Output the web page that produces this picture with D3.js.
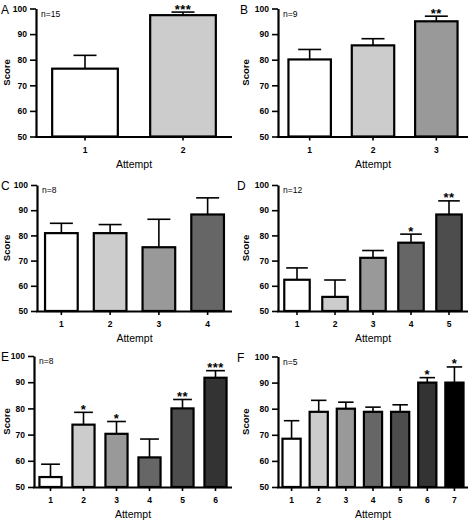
<!DOCTYPE html>
<html>
<head>
<meta charset="utf-8">
<script src="https://cdn.jsdelivr.net/npm/d3@7"></script>
<style>
  html, body { margin: 0; padding: 0; background: #fff; }
  svg { display: block; }
  text { font-family: "Liberation Sans", Arial, sans-serif; fill: #000; }
</style>
</head>
<body>
<svg id="chart" width="470" height="521"></svg>
<script>
// ---- Data ----
const yTicks = [50, 60, 70, 80, 90, 100];

const labelsA = ["1", "2"];
const meansA = [76.5, 97.4];
const semA = [5.2, 1.2];
const sigA = ["", "***"];

const labelsB = ["1", "2", "3"];
const meansB = [80.1, 85.6, 95.0];
const semB = [3.9, 2.6, 2.0];
const sigB = ["", "", "**"];

const labelsC = ["1", "2", "3", "4"];
const meansC = [80.9, 80.9, 75.3, 88.3];
const semC = [3.9, 3.4, 11.1, 6.6];
const sigC = ["", "", "", ""];

const labelsD = ["1", "2", "3", "4", "5"];
const meansD = [62.4, 55.6, 71.1, 77.1, 88.3];
const semD = [4.7, 6.7, 2.9, 3.4, 5.4];
const sigD = ["", "", "", "*", "**"];

const labelsE = ["1", "2", "3", "4", "5", "6"];
const meansE = [53.8, 73.8, 70.3, 61.3, 80.0, 91.7];
const semE = [4.9, 4.7, 4.7, 7.0, 3.4, 2.7];
const sigE = ["", "*", "*", "", "**", "***"];

const labelsF = ["1", "2", "3", "4", "5", "6", "7"];
const meansF = [68.5, 78.8, 80.0, 78.8, 78.8, 90.0, 90.0];
const semF = [6.9, 4.4, 2.5, 1.8, 2.7, 1.9, 6.0];
const sigF = ["", "", "", "", "", "*", "*"];

const fills = ["#ffffff", "#cccccc", "#999999", "#666666", "#4d4d4d", "#333333", "#000000"];

const panels = [
  {letter: "A", n: "n=15", labels: labelsA, means: meansA, sem: semA, sig: sigA,
   x0: 36, x1: 232, top: 8.5, bottom: 136.5, lx: 1, sx: 7},
  {letter: "B", n: "n=9", labels: labelsB, means: meansB, sem: semB, sig: sigB,
   x0: 278, x1: 468, top: 8.5, bottom: 136.5, lx: 240, sx: 246},
  {letter: "C", n: "n=8", labels: labelsC, means: meansC, sem: semC, sig: sigC,
   x0: 37, x1: 232, top: 185, bottom: 311, lx: 1, sx: 7},
  {letter: "D", n: "n=12", labels: labelsD, means: meansD, sem: semD, sig: sigD,
   x0: 278, x1: 468, top: 185, bottom: 311, lx: 237, sx: 246},
  {letter: "E", n: "n=8", labels: labelsE, means: meansE, sem: semE, sig: sigE,
   x0: 34, x1: 232, top: 356, bottom: 487, lx: 1, sx: 7},
  {letter: "F", n: "n=5", labels: labelsF, means: meansF, sem: semF, sig: sigF,
   x0: 278, x1: 468, top: 356.5, bottom: 487, lx: 237, sx: 246}
];

const svg = d3.select("#chart");
svg.append("rect").attr("width", 470).attr("height", 521).attr("fill", "#fff");

panels.forEach(p => {
  const g = svg.append("g");
  const x = d3.scaleBand().domain(p.labels).range([p.x0, p.x1])
    .paddingInner(0.33).paddingOuter(0.165);
  const y = d3.scaleLinear().domain([50, 100]).range([p.bottom, p.top]);
  const bw = x.bandwidth();
  const capW = Math.min(23, bw * 0.85);

  const data = p.labels.map((l, i) => ({l, m: p.means[i], s: p.sem[i], sig: p.sig[i], c: fills[i]}));

  // error bars (upper only)
  g.selectAll("line.err").data(data).join("line")
    .attr("x1", d => x(d.l) + bw / 2).attr("x2", d => x(d.l) + bw / 2)
    .attr("y1", d => y(d.m)).attr("y2", d => y(d.m + d.s))
    .attr("stroke", "#000").attr("stroke-width", 1.6);
  g.selectAll("line.cap").data(data).join("line")
    .attr("x1", d => x(d.l) + bw / 2 - capW / 2).attr("x2", d => x(d.l) + bw / 2 + capW / 2)
    .attr("y1", d => y(d.m + d.s)).attr("y2", d => y(d.m + d.s))
    .attr("stroke", "#000").attr("stroke-width", 1.6);

  // bars
  g.selectAll("rect.bar").data(data).join("rect")
    .attr("x", d => x(d.l)).attr("width", bw)
    .attr("y", d => y(d.m)).attr("height", d => y(50) - y(d.m))
    .attr("fill", d => d.c).attr("stroke", "#000").attr("stroke-width", 2.2);

  // significance
  g.selectAll("text.sig").data(data.filter(d => d.sig)).join("text")
    .attr("x", d => x(d.l) + bw / 2)
    .attr("y", d => y(d.m + d.s) + 1.5)
    .attr("text-anchor", "middle")
    .attr("font-size", 13).attr("font-weight", "bold").attr("letter-spacing", 0.5)
    .text(d => d.sig);

  // y axis
  const ya = g.append("g").attr("transform", `translate(${p.x0},0)`)
    .call(d3.axisLeft(y).tickValues(yTicks).tickSize(6).tickSizeOuter(0).tickPadding(3));
  ya.select(".domain").attr("stroke", "#000").attr("stroke-width", 2.2);
  ya.selectAll(".tick line").attr("stroke", "#000").attr("stroke-width", 1.6);
  ya.selectAll(".tick text").attr("font-size", 8.5).attr("font-weight", "bold")
    .attr("font-family", "'Liberation Sans Narrow', 'Liberation Sans', Arial, sans-serif");

  // x axis
  const xa = g.append("g").attr("transform", `translate(0,${p.bottom})`)
    .call(d3.axisBottom(x).tickSize(4).tickSizeOuter(0).tickPadding(6));
  xa.select(".domain").attr("stroke", "#000").attr("stroke-width", 2.2)
    .attr("d", `M${p.x0 - 1},0.5H${p.x1}`);
  xa.selectAll(".tick line").attr("stroke", "#000").attr("stroke-width", 1.6);
  xa.selectAll(".tick text").attr("font-size", 8.5).attr("font-weight", "bold");

  // labels
  g.append("text").attr("x", (p.x0 + p.x1) / 2).attr("y", p.bottom + 31)
    .attr("text-anchor", "middle").attr("font-size", 10.5).text("Attempt");
  g.append("text")
    .attr("transform", `translate(${p.sx + 3},${(p.top + p.bottom) / 2}) rotate(-90)`)
    .attr("text-anchor", "middle").attr("font-size", 9.5).attr("font-weight", "bold").text("Score");
  g.append("text").attr("x", p.lx).attr("y", p.top + 5)
    .attr("font-family", "'Liberation Serif', 'Times New Roman', serif")
    .attr("font-size", 12).text(p.letter);
  g.append("text").attr("x", p.x0 + 5).attr("y", p.top + 8)
    .attr("font-size", 8.5).text(p.n);
});
</script>
</body>
</html>
